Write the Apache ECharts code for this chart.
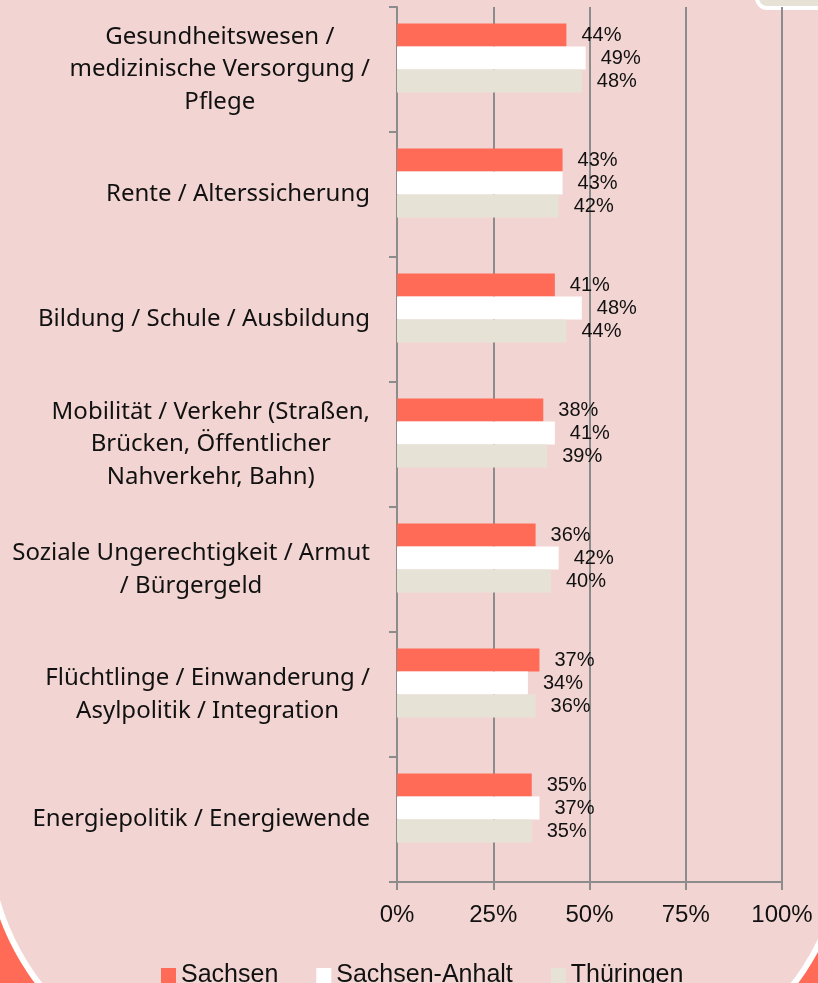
<!DOCTYPE html>
<html>
<head>
<meta charset="utf-8">
<script src="https://cdn.jsdelivr.net/npm/echarts@6/dist/echarts.min.js"></script>
<style>html,body{margin:0;padding:0;}#c{width:818px;height:983px;}</style>
</head>
<body>
<div id="c"></div>
<script>
const categories = [
  "Gesundheitswesen /\nmedizinische Versorgung /\nPflege",
  "Rente / Alterssicherung",
  "Bildung / Schule / Ausbildung",
  "Mobilität / Verkehr (Straßen,\nBrücken, Öffentlicher\nNahverkehr, Bahn)",
  "Soziale Ungerechtigkeit / Armut\n/ Bürgergeld",
  "Flüchtlinge / Einwanderung /\nAsylpolitik / Integration",
  "Energiepolitik / Energiewende"
];
const seriesNames = ["Sachsen", "Sachsen-Anhalt", "Thüringen"];
const sachsen = [44, 43, 41, 38, 36, 37, 35];
const sachsenAnhalt = [49, 43, 48, 41, 42, 34, 37];
const thueringen = [48, 42, 44, 39, 40, 36, 35];
const xTicks = [0, 25, 50, 75, 100];

const colors = ["#FF6B57", "#FFFFFF", "#E6E3D6"];
const values = [sachsen, sachsenAnhalt, thueringen];
const axisGray = "#8C8C8C";

const chart = echarts.init(document.getElementById('c'));
const barSeries = seriesNames.map(function (name, i) {
  return {
    name: name,
    type: 'bar',
    data: values[i],
    barWidth: 23,
    barGap: '0%',
    itemStyle: { color: colors[i] },
    label: {
      show: true,
      position: 'right',
      distance: 15,
      formatter: '{c}%',
      fontFamily: 'Liberation Sans',
      fontSize: 20,
      color: '#111'
    }
  };
});
// empty spacer slot (keeps the three bars in the upper part of each band, as in the original)
barSeries.push({ name: 'spacer', type: 'bar', data: [], barWidth: 23, barGap: '0%', silent: true });

const option = {
  backgroundColor: "#FF6B57",
  animation: false,
  graphic: [
    { type: 'rect', z: -20, silent: true,
      shape: { x: -16, y: -200, width: 865, height: 1286, r: [0, 0, 256, 256] },
      style: { fill: '#FFFFFF' } },
    { type: 'rect', z: -19, silent: true,
      shape: { x: -10, y: -200, width: 853, height: 1280, r: [0, 0, 250, 250] },
      style: { fill: '#F2D5D2' } },
    { type: 'rect', z: -18, silent: true,
      shape: { x: 757, y: -30, width: 100, height: 38, r: 10 },
      style: { fill: '#E6E3D6', stroke: '#FFFFFF', lineWidth: 4 } }
  ],
  legend: {
    data: seriesNames,
    left: 156,
    top: 958,
    itemWidth: 15,
    itemHeight: 15,
    itemGap: 38,
    icon: 'rect',
    textStyle: { fontFamily: 'Liberation Sans', fontSize: 25, color: '#111' }
  },
  grid: { left: 397, right: 36, top: 7, bottom: 101, containLabel: false },
  xAxis: {
    type: 'value',
    min: xTicks[0],
    max: xTicks[xTicks.length - 1],
    interval: 25,
    axisLine: { show: true, lineStyle: { color: axisGray, width: 2 } },
    axisTick: { show: true, length: 8, lineStyle: { color: axisGray, width: 2 } },
    splitLine: { show: true, lineStyle: { color: axisGray, width: 2 } },
    axisLabel: { formatter: '{value}%', fontFamily: 'Liberation Sans', fontSize: 24, color: '#111', margin: 21 }
  },
  yAxis: {
    type: 'category',
    inverse: true,
    data: categories,
    axisLine: { show: true, lineStyle: { color: axisGray, width: 2 } },
    axisTick: { show: true, length: 8, interval: 0, lineStyle: { color: axisGray, width: 2 } },
    axisLabel: {
      interval: 0,
      margin: 27,
      formatter: function (v) {
        return v.split('\n').map(function (l) { return '{c|' + l + '}'; }).join('\n');
      },
      rich: {
        c: { align: 'center', fontFamily: 'Noto Sans', fontSize: 24, lineHeight: 32.5, color: '#111' }
      }
    }
  },
  series: barSeries
};
chart.setOption(option);
</script>
</body>
</html>
